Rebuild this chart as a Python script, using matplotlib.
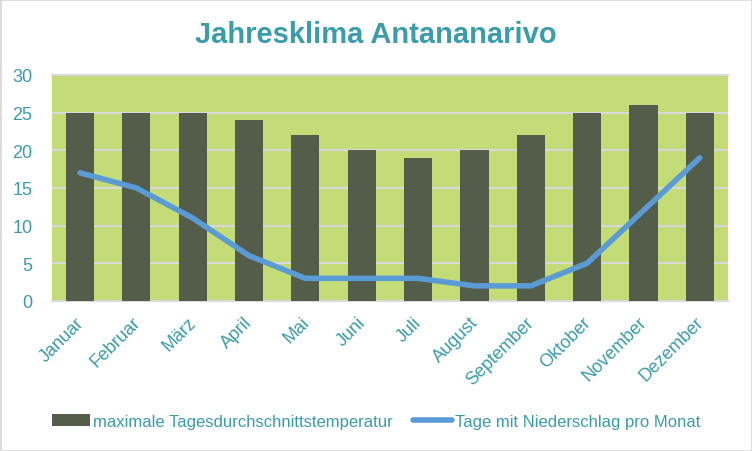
import numpy as np
import matplotlib.pyplot as plt
from matplotlib.patches import Rectangle
from matplotlib.transforms import ScaledTranslation

months = ['Januar', 'Februar', 'März', 'April', 'Mai', 'Juni', 'Juli',
          'August', 'September', 'Oktober', 'November', 'Dezember']
max_temp = [25, 25, 25, 24, 22, 20, 19, 20, 22, 25, 26, 25]
rain_days = [17, 15, 11, 6, 3, 3, 3, 2, 2, 5, 12, 19]

teal = '#3b9cab'
bar_color = '#545c4a'
bg_color = '#c4dc78'
line_color = '#5b9bd5'

plt.rcParams['font.family'] = ['Liberation Sans', 'DejaVu Sans']

fig = plt.figure(figsize=(7.52, 4.52), dpi=100)
fig.patches.append(Rectangle((0, 0), 1, 1, transform=fig.transFigure,
                             fill=False, edgecolor='#d9d9d9', linewidth=2))
ax = fig.add_axes([0.069, 0.332, 0.899, 0.5])
ax.set_facecolor(bg_color)

x = np.arange(len(months))
bars = ax.bar(x, max_temp, width=0.5, color=bar_color, zorder=3)
line, = ax.plot(x, rain_days, color=line_color, linewidth=4, solid_capstyle='round',
                solid_joinstyle='round', zorder=4)

ax.set_xlim(-0.5, len(months) - 0.5)
ax.set_ylim(0, 30)
ax.set_yticks(range(0, 31, 5))
ax.yaxis.grid(True, color='#d9d9d9', linewidth=1.5, zorder=1)
ax.set_axisbelow(True)
for s in ['right', 'left']:
    ax.spines[s].set_visible(False)
for s in ['top', 'bottom']:
    ax.spines[s].set_color('#d9d9d9')
    ax.spines[s].set_linewidth(1.5)

ax.set_xticks(x)
ax.set_xticklabels(months, rotation=45, ha='right', rotation_mode='anchor')
ax.tick_params(axis='both', length=0, colors=teal, labelsize=13)
ax.tick_params(axis='x', pad=9)
ax.tick_params(axis='y', pad=14)
shift = ScaledTranslation(-5 / 100, 0, fig.dpi_scale_trans)
for lbl in ax.get_xticklabels():
    lbl.set_transform(lbl.get_transform() + shift)

fig.text(0.5, 0.922, 'Jahresklima Antananarivo', ha='center', va='center',
         fontsize=21, fontweight='bold', color=teal)

leg = fig.legend([bars, line],
                 ['maximale Tagesdurchschnittstemperatur', 'Tage mit Niederschlag pro Monat'],
                 loc='center', bbox_to_anchor=(0.5, 0.065), ncol=2, frameon=False,
                 fontsize=12, handlelength=2.3, handletextpad=0.2, columnspacing=1.2)
for t in leg.get_texts():
    t.set_color(teal)

fig.savefig('out.png', dpi=100)
